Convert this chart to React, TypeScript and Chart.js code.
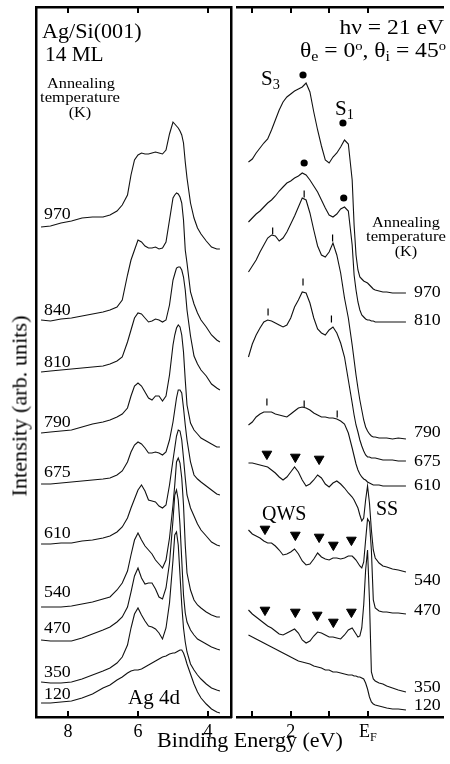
import React, { useEffect, useRef } from "react";
import { Chart, registerables } from "chart.js";

Chart.register(...registerables);

const FONT = '"Liberation Serif", "Times New Roman", Times, serif';

// ---------- Left panel: Ag 4d region (binding energy, eV) ----------
const leftEnergy = [
  8.77, 8.5, 8.2, 7.9, 7.6, 7.3, 7.0, 6.8, 6.6, 6.45, 6.3, 6.2, 6.1, 6.0, 5.9, 5.8, 5.7, 5.6, 5.5, 5.4,
  5.3, 5.2, 5.1, 5.0, 4.95, 4.9, 4.85, 4.8, 4.75, 4.7, 4.65, 4.6, 4.5, 4.4, 4.3, 4.2, 4.05, 3.9, 3.75, 3.66,
];
const left970 = [491, 492, 495, 497, 500, 501, 501, 503, 507, 513, 523, 543, 558, 563, 565, 564, 564, 565, 566, 565, 564, 568, 584, 596, 594, 592, 590, 587, 583, 575, 556, 540, 515, 500, 490, 484, 477, 471, 469, 469];
const left840 = [398, 397, 399, 400, 402, 404, 406, 408, 411, 418, 443, 458, 468, 478, 476, 472, 470, 470, 471, 469, 470, 476, 498, 520, 523, 525, 524, 521, 515, 498, 468, 455, 426, 414, 405, 398, 391, 383, 378, 376];
const left810 = [346, 347, 348, 349, 350, 351, 352, 354, 357, 361, 376, 388, 400, 405, 404, 400, 396, 397, 399, 398, 396, 398, 413, 438, 444, 450, 451, 451, 448, 441, 428, 408, 382, 362, 354, 348, 342, 334, 330, 328];
const left790 = [285, 286, 287, 288, 291, 294, 296, 298, 301, 304, 310, 322, 332, 335, 332, 326, 320, 318, 322, 322, 317, 322, 343, 373, 383, 390, 393, 391, 383, 366, 338, 313, 295, 288, 284, 280, 277, 274, 271, 271];
const left675 = [234, 234, 235, 236, 237, 238, 239, 240, 243, 247, 256, 266, 273, 276, 274, 270, 265, 265, 266, 265, 263, 266, 278, 296, 308, 320, 328, 328, 325, 310, 293, 278, 256, 243, 239, 236, 232, 228, 224, 223];
const left610 = [174, 174, 175, 175, 177, 178, 180, 182, 186, 191, 200, 210, 219, 228, 233, 227, 218, 217, 216, 212, 210, 213, 233, 258, 270, 282, 288, 287, 278, 260, 240, 223, 210, 202, 194, 188, 182, 176, 173, 172];
const left540 = [111, 111, 111, 112, 114, 116, 119, 121, 128, 135, 147, 163, 178, 185, 178, 172, 168, 164, 158, 154, 150, 158, 180, 213, 233, 256, 260, 255, 240, 213, 173, 145, 128, 118, 113, 110, 106, 103, 101, 101];
const left470 = [78, 77, 77, 77, 80, 84, 88, 91, 96, 101, 111, 126, 142, 150, 140, 134, 135, 135, 129, 121, 119, 130, 155, 198, 223, 228, 218, 193, 158, 123, 105, 96, 88, 83, 79, 77, 74, 71, 69, 68];
const left350 = [36, 35, 35, 36, 39, 43, 47, 50, 55, 61, 73, 90, 104, 110, 103, 97, 92, 91, 89, 85, 79, 90, 115, 158, 183, 186, 173, 143, 113, 90, 76, 66, 54, 48, 43, 39, 34, 30, 28, 27];
const left120 = [15, 15, 16, 17, 20, 24, 30, 33, 38, 41, 45, 47, 48, 48, 49, 51, 53, 55, 57, 59, 61, 62, 64, 65, 65, 66, 67, 68, 68, 65, 60, 54, 44, 34, 26, 20, 14, 9, 6, 5];
const leftTemps = ["970", "840", "810", "790", "675", "610", "540", "470", "350", "120"];
const leftTickValues = [8, 6, 4];

// ---------- Right panel: valence band near E_F ----------
const rightEnergy = [
  3.1, 3.0, 2.9, 2.8, 2.7, 2.6, 2.5, 2.4, 2.3, 2.2, 2.1, 2.0, 1.9, 1.8, 1.7, 1.6, 1.5, 1.4, 1.3, 1.2,
  1.1, 1.0, 0.9, 0.8, 0.7, 0.6, 0.5, 0.4, 0.35, 0.3, 0.25, 0.2, 0.15, 0.1, 0.05, 0, -0.05, -0.1, -0.15, -0.2,
  -0.3, -0.4, -0.5, -0.65, -0.8, -1.0,
];
const right970 = [556, 559, 565, 570, 575, 579, 588, 598, 608, 616, 621, 624, 627, 629, 631, 635, 626, 606, 588, 572, 558, 555, 561, 565, 571, 578, 574, 538, 493, 463, 448, 441, 439, 437, 436, 435, 433, 431, 429, 428, 427, 426, 426, 425, 425, 425];
const right810 = [496, 500, 504, 507, 511, 515, 518, 522, 527, 531, 535, 537, 540, 542, 545, 543, 538, 532, 526, 518, 510, 503, 501, 504, 509, 511, 507, 473, 443, 428, 416, 408, 403, 401, 399, 398, 398, 397, 397, 396, 396, 396, 396, 396, 396, 396];
const right790 = [446, 452, 458, 466, 473, 480, 483, 482, 477, 480, 486, 494, 502, 511, 520, 518, 505, 488, 472, 463, 461, 466, 475, 463, 445, 420, 400, 373, 358, 343, 330, 318, 308, 298, 291, 287, 284, 282, 281, 281, 280, 280, 280, 279, 280, 279];
const right675 = [361, 374, 383, 390, 396, 398, 397, 395, 393, 391, 393, 400, 411, 418, 426, 425, 415, 400, 389, 385, 383, 388, 391, 385, 375, 361, 338, 315, 303, 293, 286, 278, 272, 267, 263, 261, 261, 260, 260, 260, 259, 258, 258, 258, 257, 257];
const right610 = [293, 296, 301, 304, 306, 306, 306, 304, 303, 302, 301, 304, 307, 310, 311, 310, 308, 305, 303, 301, 301, 300, 300, 299, 297, 294, 285, 270, 262, 254, 248, 244, 241, 239, 238, 236, 235, 234, 233, 233, 233, 232, 232, 232, 232, 232];
const right540 = [255, 255, 254, 253, 252, 251, 248, 245, 241, 238, 241, 246, 251, 246, 238, 232, 234, 238, 243, 240, 234, 231, 235, 237, 234, 230, 225, 221, 218, 214, 210, 203, 197, 200, 218, 232, 215, 188, 168, 160, 155, 152, 151, 149, 148, 146];
const right470 = [188, 184, 182, 180, 177, 175, 175, 172, 168, 163, 164, 166, 169, 164, 157, 153, 154, 159, 165, 161, 159, 158, 160, 160, 159, 160, 162, 162, 160, 158, 155, 152, 150, 156, 178, 199, 196, 168, 118, 110, 107, 106, 106, 105, 105, 104];
const right350 = [108, 104, 101, 98, 95, 92, 90, 87, 84, 83, 85, 87, 89, 85, 78, 75, 77, 82, 86, 85, 83, 81, 81, 80, 79, 83, 88, 90, 87, 84, 81, 82, 90, 113, 148, 168, 118, 46, 39, 37, 35, 34, 32, 30, 28, 26];
const right120 = [83, 81, 79, 77, 75, 73, 71, 69, 67, 65, 63, 61, 59, 57, 56, 55, 54, 52, 51, 50, 48, 48, 46, 46, 45, 44, 43, 43, 42, 42, 41, 41, 40, 39, 35, 29, 21, 16, 14, 13, 12, 11, 10, 9, 9, 8];
const rightTemps = ["970", "810", "790", "675", "610", "540", "470", "350", "120"];
const rightTickValues = [3, 2, 1, 0];

// S3 / S1 dots (970 K and 810 K spectra)
const dotEnergy = [1.68, 0.64, 1.65, 0.62];
const dotIntensity = [643, 595, 555, 520];
// short vertical feature ticks (790, 675, 610 K spectra)
const markEnergy = [2.47, 1.65, 0.91, 2.59, 1.68, 0.94, 2.62, 1.65, 0.79];
const markIntensity = [487, 524, 480, 406, 436, 399, 316, 314, 304];
// QWS triangles (540, 470, 350 K spectra)
const triEnergy = [2.62, 1.88, 1.26, 2.67, 1.88, 1.26, 0.89, 0.42, 2.67, 1.88, 1.31, 0.89, 0.42];
const triIntensity = [264, 261, 259, 189, 183, 181, 173, 178, 108, 106, 103, 96, 106];

// ---------- layout constants ----------
const PLOT_TOP = 7;
const AXIS_H = 47;
const CANVAS_H = 764;
const LEFT_PAD = 36;
const LEFT_W = 234;
const RIGHT_X = 231;
const RIGHT_W = 219;
const Y_MIN = 1;
const Y_MAX = 711;

const pts = (xs: number[], ys: number[]) => xs.map((x, i) => ({ x, y: ys[i] }));

const lineDs = (xs: number[], ys: number[]) => ({
  type: "line" as const,
  data: pts(xs, ys),
  borderColor: "#111",
  borderWidth: 1.1,
  pointRadius: 0,
  tension: 0,
  fill: false,
});

const inwardTicks = {
  id: "inwardTicks",
  afterDraw(chart: any) {
    const { ctx, chartArea } = chart;
    const sx = chart.scales.x;
    ctx.save();
    ctx.strokeStyle = "#000";
    ctx.lineWidth = 2;
    sx.ticks.forEach((t: any) => {
      const px = Math.round(sx.getPixelForValue(t.value));
      ctx.beginPath();
      ctx.moveTo(px, chartArea.bottom);
      ctx.lineTo(px, chartArea.bottom - 6);
      ctx.moveTo(px, chartArea.top);
      ctx.lineTo(px, chartArea.top + 6);
      ctx.stroke();
    });
    ctx.restore();
  },
};

function makeScales(min: number, max: number, tickValues: number[], label: (v: number) => string, leftBorder: boolean, rightBorder: boolean) {
  const border = { display: true, color: "#000", width: 2.5 };
  const none = { display: false };
  return {
    x: {
      type: "linear",
      reverse: true,
      min,
      max,
      position: "bottom",
      afterBuildTicks: (s: any) => {
        s.ticks = tickValues.map((v) => ({ value: v }));
      },
      ticks: {
        color: "#000",
        font: { family: FONT, size: 18 },
        padding: 4,
        maxRotation: 0,
        autoSkip: false,
        callback: (v: any) => label(Number(v)),
      },
      grid: { display: false, drawTicks: false },
      border,
      afterFit: (s: any) => {
        s.height = AXIS_H;
      },
    },
    xTop: {
      type: "linear",
      reverse: true,
      min,
      max,
      position: "top",
      ticks: { display: false },
      grid: { display: false, drawTicks: false },
      border,
      afterFit: (s: any) => {
        s.height = 0;
      },
    },
    y: {
      type: "linear",
      min: Y_MIN,
      max: Y_MAX,
      position: "left",
      ticks: { display: false },
      grid: { display: false, drawTicks: false },
      border: leftBorder ? border : none,
      afterFit: (s: any) => {
        s.width = 0;
      },
    },
    yRight: {
      type: "linear",
      min: Y_MIN,
      max: Y_MAX,
      position: "right",
      ticks: { display: false },
      grid: { display: false, drawTicks: false },
      border: rightBorder ? border : none,
      afterFit: (s: any) => {
        s.width = 0;
      },
    },
  };
}

function baseOptions(scales: any, padding: any) {
  return {
    animation: false,
    responsive: false,
    maintainAspectRatio: false,
    devicePixelRatio: 1,
    events: [],
    layout: { padding },
    plugins: { legend: { display: false }, tooltip: { enabled: false } },
    scales,
  };
}

function txt(
  x: number,
  baseline: number,
  size: number,
  align: "left" | "center" | "right" = "left",
  sx = 1
): React.CSSProperties {
  const shift = align === "center" ? "translateX(-50%) " : align === "right" ? "translateX(-100%) " : "";
  return {
    position: "absolute",
    left: x,
    top: baseline - 0.8375 * size,
    fontFamily: FONT,
    fontSize: size,
    lineHeight: `${size}px`,
    color: "#000",
    whiteSpace: "nowrap",
    transform: `${shift}scaleX(${sx})`,
    transformOrigin: align === "center" ? "center" : align === "right" ? "right" : "left",
  };
}

const subStyle: React.CSSProperties = { fontSize: "0.68em", verticalAlign: "-0.3em", lineHeight: 0 };
const supStyle: React.CSSProperties = { fontSize: "0.62em", verticalAlign: "0.55em", lineHeight: 0 };

const leftLabelBaselines = [219, 315, 367, 427, 477, 538, 597, 633, 677, 699];
const rightLabelBaselines = [297, 325, 437, 466, 490, 585, 615, 692, 710];

export default function App() {
  const leftRef = useRef<HTMLCanvasElement>(null);
  const rightRef = useRef<HTMLCanvasElement>(null);

  useEffect(() => {
    const leftSeries = [left970, left840, left810, left790, left675, left610, left540, left470, left350, left120];
    const rightSeries = [right970, right810, right790, right675, right610, right540, right470, right350, right120];

    const leftChart = new Chart(leftRef.current as HTMLCanvasElement, {
      type: "line",
      data: { datasets: leftSeries.map((s) => lineDs(leftEnergy, s)) as any },
      options: baseOptions(
        makeScales(3.343, 8.914, leftTickValues, (v) => String(v), true, true),
        { left: LEFT_PAD, top: PLOT_TOP, right: LEFT_W - 231, bottom: 0 }
      ) as any,
      plugins: [inwardTicks],
    });

    const rightChart = new Chart(rightRef.current as HTMLCanvasElement, {
      type: "line",
      data: {
        datasets: [
          ...rightSeries.map((s) => lineDs(rightEnergy, s)),
          {
            type: "scatter",
            data: pts(dotEnergy, dotIntensity),
            pointRadius: 3.6,
            pointBackgroundColor: "#000",
            pointBorderColor: "#000",
            pointBorderWidth: 0,
          },
          {
            type: "scatter",
            data: pts(triEnergy, triIntensity),
            pointStyle: "triangle",
            pointRotation: 180,
            pointRadius: 5.6,
            pointBackgroundColor: "#000",
            pointBorderColor: "#000",
            pointBorderWidth: 1,
          },
          {
            type: "scatter",
            data: pts(markEnergy, markIntensity),
            pointStyle: "line",
            pointRotation: 90,
            pointRadius: 3.5,
            pointBorderColor: "#000",
            pointBorderWidth: 1.2,
          },
        ] as any,
      },
      options: baseOptions(
        makeScales(-1.975, 3.383, rightTickValues, (v) => (v === 2 ? "2" : ""), false, false),
        { left: 0, top: PLOT_TOP, right: 2, bottom: 0 }
      ) as any,
      plugins: [inwardTicks],
    });

    return () => {
      leftChart.destroy();
      rightChart.destroy();
    };
  }, []);

  return (
    <div style={{ position: "absolute", left: 0, top: 0, width: 450, height: CANVAS_H, background: "#fff", overflow: "hidden" }}>
      <canvas ref={leftRef} width={LEFT_W} height={CANVAS_H} style={{ position: "absolute", left: 0, top: 0, width: LEFT_W, height: CANVAS_H }} />
      <canvas ref={rightRef} width={RIGHT_W} height={CANVAS_H} style={{ position: "absolute", left: RIGHT_X, top: 0, width: RIGHT_W, height: CANVAS_H }} />

      {/* left panel annotations */}
      <div style={txt(42, 38, 20.5, "left", 1.08)}>Ag/Si(001)</div>
      <div style={txt(45, 61, 20.5, "left", 1.04)}>14 ML</div>
      <div style={txt(81, 88, 15.5, "center", 1.05)}>Annealing</div>
      <div style={txt(80, 102, 15.5, "center", 1.08)}>temperature</div>
      <div style={txt(80, 117, 15.5, "center", 1.05)}>(K)</div>
      <div style={txt(128, 705, 21)}>Ag 4d</div>
      {leftTemps.map((t, i) => (
        <div key={"l" + t} style={txt(44, leftLabelBaselines[i], 17, "left", 1.05)}>{t}</div>
      ))}

      {/* right panel annotations */}
      <div style={txt(444, 34, 20.5, "right", 1.15)}>hν = 21 eV</div>
      <div style={txt(446, 57, 20.5, "right", 1.15)}>
        θ<span style={subStyle}>e</span> = 0<span style={supStyle}>o</span>, θ<span style={subStyle}>i</span> = 45<span style={supStyle}>o</span>
      </div>
      <div style={txt(261, 86, 21)}>
        S<span style={subStyle}>3</span>
      </div>
      <div style={txt(335, 116, 21)}>
        S<span style={subStyle}>1</span>
      </div>
      <div style={txt(406, 227, 15.5, "center", 1.05)}>Annealing</div>
      <div style={txt(406, 241, 15.5, "center", 1.08)}>temperature</div>
      <div style={txt(406, 256, 15.5, "center", 1.05)}>(K)</div>
      <div style={txt(262, 520, 20)}>QWS</div>
      <div style={txt(376, 515, 20)}>SS</div>
      {rightTemps.map((t, i) => (
        <div key={"r" + t} style={txt(414, rightLabelBaselines[i], 17, "left", 1.05)}>{t}</div>
      ))}

      {/* axis texts */}
      <div style={txt(368, 737, 18, "center")}>
        E<span style={subStyle}>F</span>
      </div>
      <div style={txt(249.5, 748, 21, "center", 1.05)}>Binding Energy (eV)</div>
      <div
        style={{
          position: "absolute",
          left: 20,
          top: 406,
          fontFamily: FONT,
          fontSize: 21,
          lineHeight: "21px",
          whiteSpace: "nowrap",
          color: "#000",
          transform: "translate(-50%, -50%) rotate(-90deg) scaleX(1.06)",
        }}
      >
        Intensity (arb. units)
      </div>
    </div>
  );
}
